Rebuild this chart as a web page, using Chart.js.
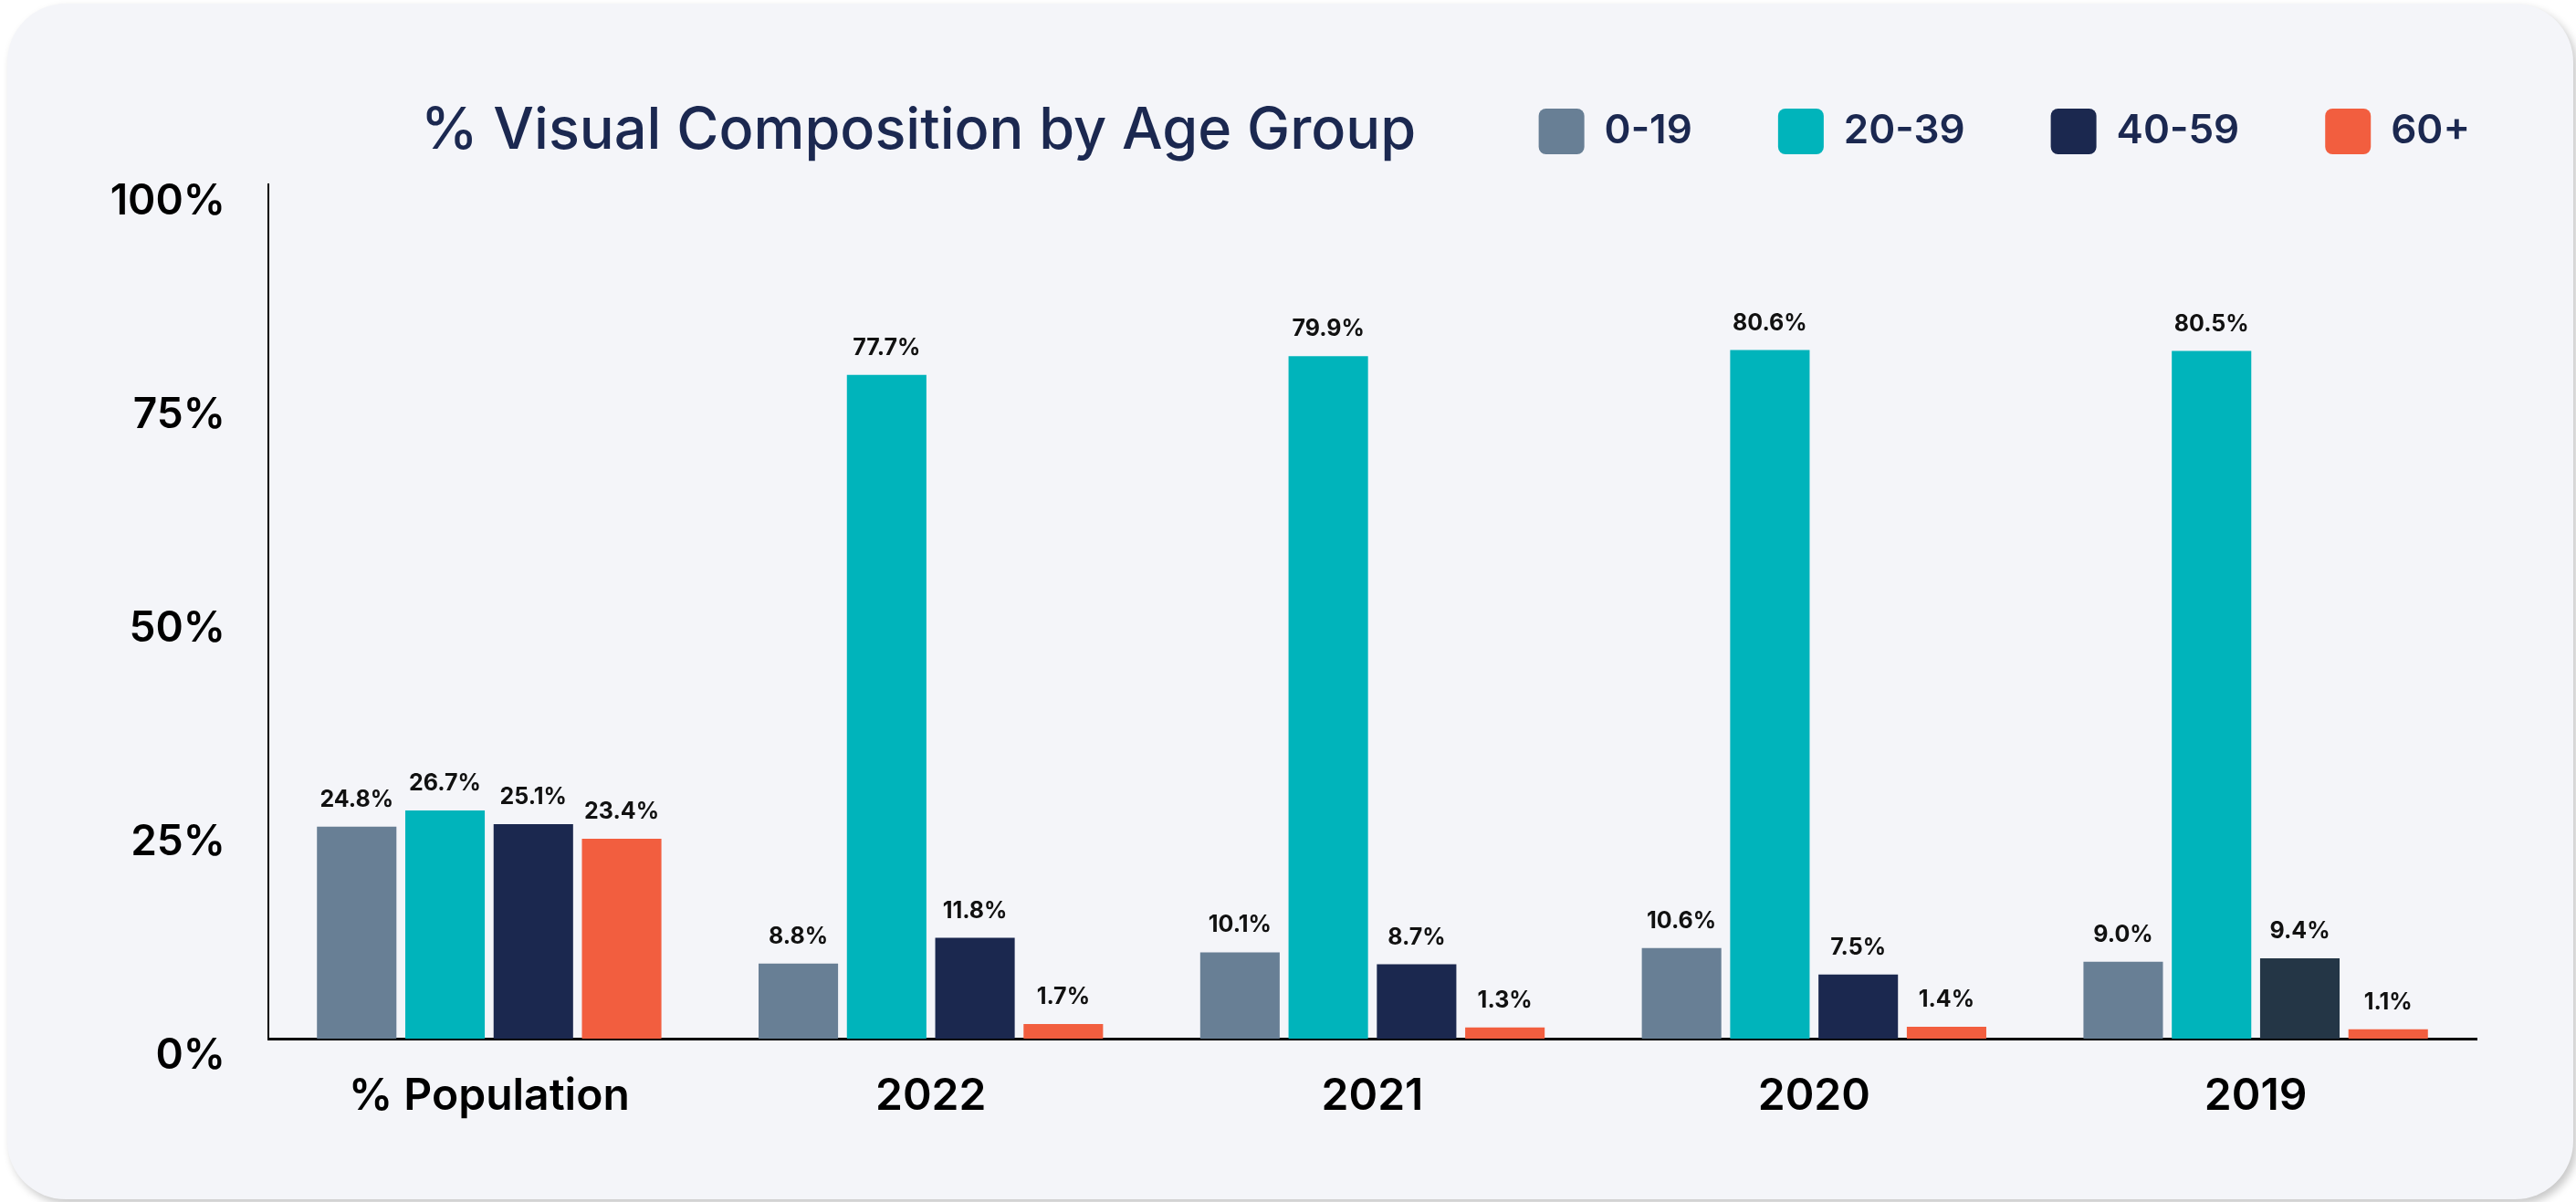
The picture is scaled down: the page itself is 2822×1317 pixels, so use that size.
<!DOCTYPE html>
<html>
<head>
<meta charset="utf-8">
<script src="https://cdn.jsdelivr.net/npm/chart.js@4.4.1/dist/chart.umd.min.js"></script>
<style>
  html, body { margin: 0; padding: 0; background: #ffffff; }
  #card {
    position: absolute; left: 8px; top: 4px; width: 2811px; height: 1310px;
    background: #f4f5f9; border-radius: 64px;
    box-shadow: 4px 5px 10px rgba(0,0,0,0.22);
  }
  #wrap { position: absolute; left: 0; top: 0; width: 2822px; height: 1317px; }
</style>
</head>
<body>
<div id="card"></div>
<div id="wrap"><canvas id="chart"></canvas></div>
<script>
const CATEGORIES = ['% Population', '2022', '2021', '2020', '2019'];
const AGE_GROUPS = ['0-19', '20-39', '40-59', '60+'];
const AGE_0_19  = [24.8, 8.8, 10.1, 10.6, 9.0];
const AGE_20_39 = [26.7, 77.7, 79.9, 80.6, 80.5];
const AGE_40_59 = [25.1, 11.8, 8.7, 7.5, 9.4];
const AGE_60    = [23.4, 1.7, 1.3, 1.4, 1.1];
const Y_TICKS = [0, 25, 50, 75, 100];
const TITLE = '% Visual Composition by Age Group';

const NAVY = '#1b2850';

// value labels above each bar
const valueLabels = {
  id: 'valueLabels',
  afterDatasetsDraw(chart) {
    const ctx = chart.ctx;
    ctx.save();
    ctx.font = '700 25px Inter';
    ctx.fillStyle = '#111111';
    ctx.textAlign = 'center';
    ctx.textBaseline = 'alphabetic';
    chart.data.datasets.forEach((ds, i) => {
      chart.getDatasetMeta(i).data.forEach((bar, j) => {
        ctx.fillText(ds.data[j].toFixed(1) + '%', bar.x, bar.y - 22);
      });
    });
    ctx.restore();
  }
};

// title sits on the same line as the legend
const sideTitle = {
  id: 'sideTitle',
  afterDraw(chart) {
    const ctx = chart.ctx;
    ctx.save();
    ctx.font = '500 63px Inter';
    ctx.fillStyle = NAVY;
    ctx.textAlign = 'left';
    ctx.textBaseline = 'alphabetic';
    ctx.fillText(TITLE, 461, 163);
    ctx.restore();
  }
};

// extra room between legend and plot
const legendGap = {
  id: 'legendGap',
  beforeInit(chart) {
    const lg = chart.legend;
    if (!lg) return;
    const fit = lg.fit;
    lg.fit = function () { fit.call(this); this.height += 23; };
  }
};

new Chart(document.getElementById('chart'), {
  type: 'bar',
  data: {
    labels: CATEGORIES,
    datasets: [
      { label: AGE_GROUPS[0], data: AGE_0_19, backgroundColor: '#687f95' },
      { label: AGE_GROUPS[1], data: AGE_20_39, backgroundColor: '#00b4bb' },
      { label: AGE_GROUPS[2], data: AGE_40_59,
        backgroundColor: c => (c.dataIndex === 4 ? '#243646' : '#1b284f') },
      { label: AGE_GROUPS[3], data: AGE_60, backgroundColor: '#f25e3f' }
    ]
  },
  options: {
    responsive: true,
    maintainAspectRatio: false,
    animation: false,
    layout: { padding: { top: 25, right: 22, bottom: 0, left: 0 } },
    plugins: {
      tooltip: { enabled: false },
      legend: {
        position: 'top',
        align: 'end',
        labels: {
          boxWidth: 50,
          boxHeight: 50,
          padding: 94,
          useBorderRadius: true,
          borderRadius: 8,
          color: NAVY,
          font: { family: 'Inter', size: 44, weight: 600 }
        }
      }
    },
    scales: {
      x: {
        grid: { display: false, drawTicks: false },
        border: { color: '#000000', width: 3 },
        ticks: { color: '#000000', padding: 35, font: { family: 'Inter', size: 48, weight: 600 } },
        afterFit: s => { s.height = 179; }
      },
      y: {
        min: 0,
        max: 100,
        afterBuildTicks: s => { s.ticks = Y_TICKS.map(v => ({ value: v })); },
        grid: { display: false, drawTicks: false },
        border: { color: '#000000', width: 2 },
        ticks: {
          color: '#000000',
          padding: 47,
          labelOffset: 19,
          font: { family: 'Inter', size: 46, weight: 600 },
          callback: v => v + '%'
        },
        afterFit: s => { s.width = 294; }
      },
      yRight: {
        position: 'right',
        display: true,
        grid: { display: false, drawTicks: false },
        border: { display: false },
        ticks: { display: false },
        afterFit: s => { s.width = 87; }
      }
    }
  },
  plugins: [legendGap, valueLabels, sideTitle]
});
</script>
</body>
</html>
